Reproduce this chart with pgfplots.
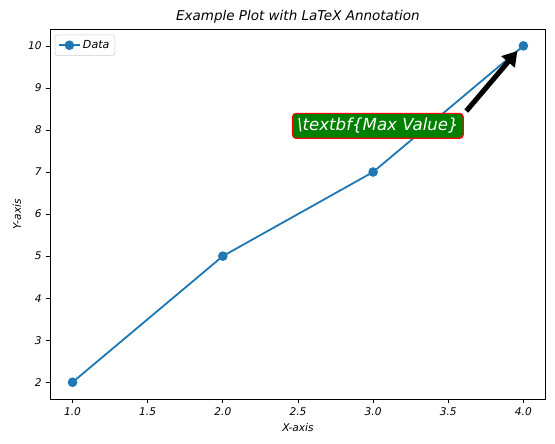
\documentclass[border=0pt]{standalone}
\usepackage{fontspec}
\setmainfont{DejaVu Sans}
\usepackage{pgfplots}
\pgfplotsset{compat=1.18}
\usetikzlibrary{arrows.meta}
\definecolor{tabblue}{HTML}{1F77B4}
\definecolor{mplgreen}{RGB}{0,128,0}
\begin{document}
\begin{tikzpicture}[x=1pt,y=1pt]
\useasboundingbox (0,0) rectangle (460.8,368.64);
\begin{axis}[
  at={(41.5pt,37.3pt)}, anchor=south west,
  scale only axis, width=411.8pt, height=307.2pt,
  xmin=0.85, xmax=4.15, ymin=1.6, ymax=10.4,
  xtick={1,1.5,2,2.5,3,3.5,4},
  ytick={2,3,4,5,6,7,8,9,10},
  xticklabel style={/pgf/number format/.cd, fixed, fixed zerofill, precision=1},
  /pgf/number format/assume math mode=true,
  ticklabel style={font=\itshape\fontsize{8.8}{10}\selectfont},
  tick align=outside, major tick length=3.5pt,
  xtick pos=bottom, ytick pos=left,
  tick style={black, line width=0.6pt},
  axis line style={line width=0.8pt},
  title={\itshape\fontsize{11.2}{13}\selectfont Example Plot with LaTeX Annotation},
  title style={yshift=-5pt},
  xlabel={\itshape\fontsize{8.8}{10}\selectfont X-axis},
  ylabel={\itshape\fontsize{8.8}{10}\selectfont Y-axis},
  xlabel style={yshift=0pt},
  ylabel style={yshift=-1pt},
  legend style={font=\itshape\fontsize{9.2}{10}\selectfont, draw=black!20, rounded corners=2pt, at={(0.01,0.985)}, anchor=north west, inner sep=2.5pt},
  legend cell align=left,
  clip=false,
]
\addplot[color=tabblue, line width=1.5pt, mark=*, mark size=3.2pt, mark options={solid, fill=tabblue, draw=tabblue}]
  coordinates {(1,2) (2,5) (3,7) (4,10)};
\addlegendentry{Data}
\draw[black, line width=4.2pt, -{Triangle[length=12pt,width=14pt]}] (axis cs:3.62,8.45) -- (axis cs:3.96,9.88);
\node[anchor=base west, fill=mplgreen, draw=red, line width=1pt, rounded corners=3pt, text=white, inner xsep=3.7pt, inner ysep=4pt, font=\itshape\fontsize{13.8}{16}\selectfont] at (axis cs:2.46,7.98) {\textbackslash textbf\{Max Value\}};
\end{axis}
\end{tikzpicture}
\end{document}
